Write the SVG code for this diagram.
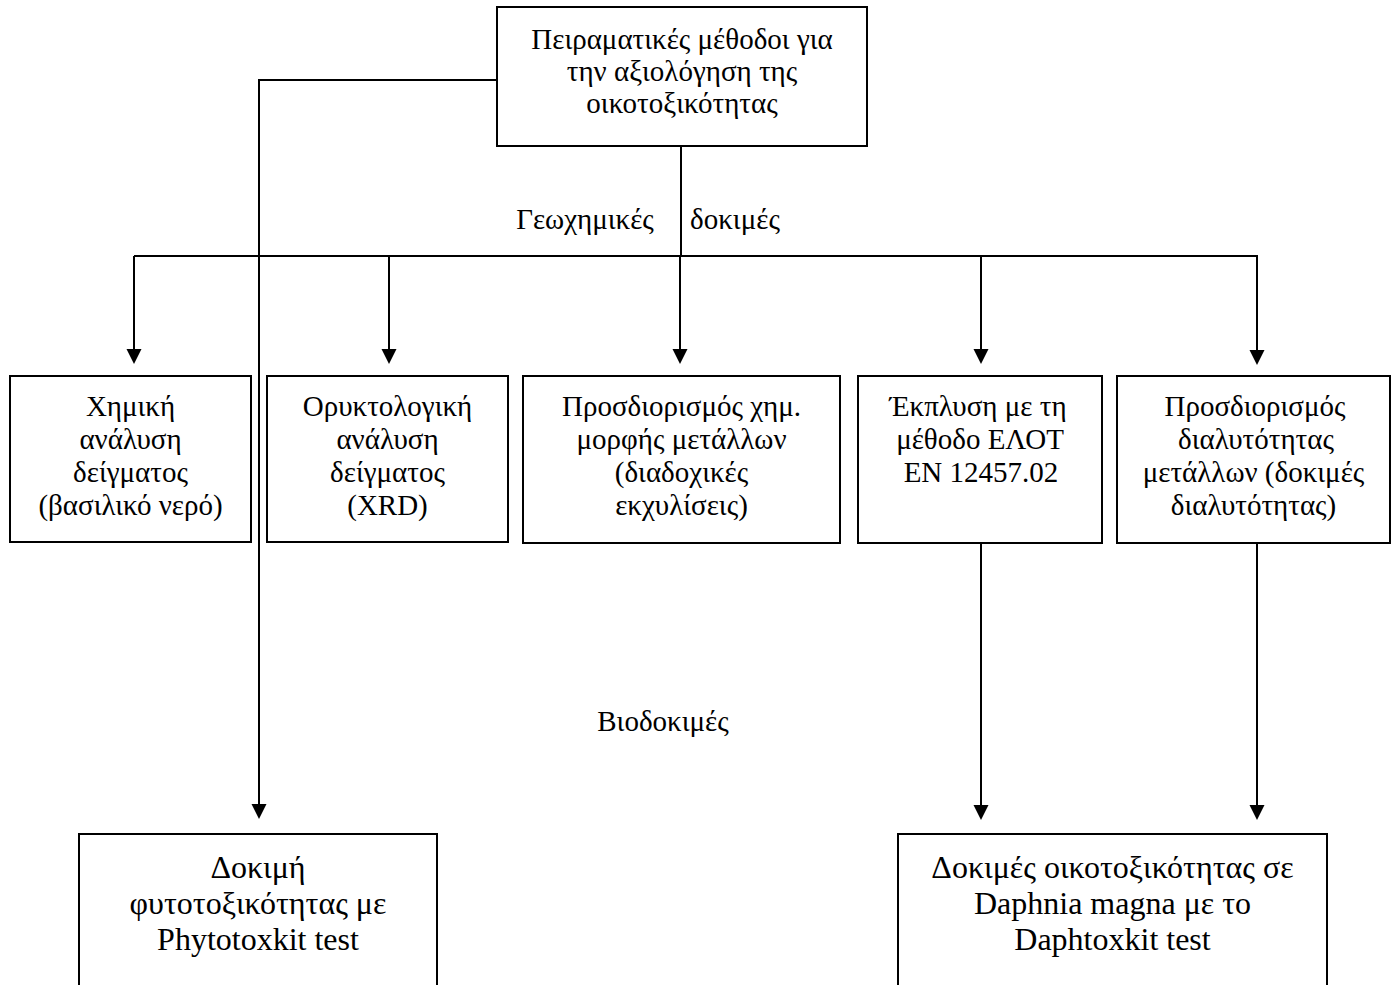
<svg xmlns="http://www.w3.org/2000/svg" width="1391" height="985" viewBox="0 0 1391 985">
<defs>
<style>
.box{fill:#fff;stroke:#000;stroke-width:2}
.t{font-family:"Liberation Serif","Times New Roman",serif;font-size:29px;fill:#000;text-anchor:middle}
.tb{font-family:"Liberation Serif","Times New Roman",serif;font-size:32px;fill:#000;text-anchor:middle}
.c{fill:none;stroke:#000;stroke-width:2}
</style>
<marker id="ah" markerUnits="userSpaceOnUse" markerWidth="16" markerHeight="16" refX="5" refY="7.5" orient="auto">
<path d="M0,0 L15,7.5 L0,15 z" fill="#000"/>
</marker>
</defs>
<rect width="1391" height="985" fill="#fff"/>
<g id="connectors">
<path class="c" d="M681,146 V256"/>
<path class="c" d="M134,256 H1258"/>
<path class="c" d="M134,256 V354" marker-end="url(#ah)"/>
<path class="c" d="M389,256 V354" marker-end="url(#ah)"/>
<path class="c" d="M680,256 V354" marker-end="url(#ah)"/>
<path class="c" d="M981,256 V354" marker-end="url(#ah)"/>
<path class="c" d="M1257,256 V355" marker-end="url(#ah)"/>
<path class="c" d="M497,80 H259 V809" marker-end="url(#ah)"/>
<path class="c" d="M981,543 V810" marker-end="url(#ah)"/>
<path class="c" d="M1257,543 V810" marker-end="url(#ah)"/>
</g>
<g id="label-geo">
<text class="t" x="585" y="229">Γεωχημικές</text>
<text class="t" x="735" y="229">δοκιμές</text>
</g>
<g id="label-bio">
<text class="t" x="663" y="731">Βιοδοκιμές</text>
</g>
<g id="root">
<rect class="box" x="497" y="7" width="370" height="139"/>
<text class="t" x="682" y="49">Πειραματικές μέθοδοι για</text>
<text class="t" x="682" y="81">την αξιολόγηση της</text>
<text class="t" x="682" y="113">οικοτοξικότητας</text>
</g>
<g id="chem">
<rect class="box" x="10" y="376" width="241" height="166"/>
<text class="t" x="130.5" y="416">Χημική</text>
<text class="t" x="130.5" y="449">ανάλυση</text>
<text class="t" x="130.5" y="482">δείγματος</text>
<text class="t" x="130.5" y="515">(βασιλικό νερό)</text>
</g>
<g id="mineral">
<rect class="box" x="267" y="376" width="241" height="166"/>
<text class="t" x="387.5" y="416">Ορυκτολογική</text>
<text class="t" x="387.5" y="449">ανάλυση</text>
<text class="t" x="387.5" y="482">δείγματος</text>
<text class="t" x="387.5" y="515">(XRD)</text>
</g>
<g id="speciation">
<rect class="box" x="523" y="376" width="317" height="167"/>
<text class="t" x="681.5" y="416">Προσδιορισμός χημ.</text>
<text class="t" x="681.5" y="449">μορφής μετάλλων</text>
<text class="t" x="681.5" y="482">(διαδοχικές</text>
<text class="t" x="681.5" y="515">εκχυλίσεις)</text>
</g>
<g id="leaching">
<rect class="box" x="858" y="376" width="244" height="167"/>
<text class="t" x="978" y="416">Έκπλυση με τη</text>
<text class="t" x="980" y="449">μέθοδο ΕΛΟΤ</text>
<text class="t" x="981" y="482">EN 12457.02</text>
</g>
<g id="solubility">
<rect class="box" x="1117" y="376" width="273" height="167"/>
<text class="t" x="1255" y="416">Προσδιορισμός</text>
<text class="t" x="1256" y="449">διαλυτότητας</text>
<text class="t" x="1253.5" y="482">μετάλλων (δοκιμές</text>
<text class="t" x="1253.5" y="515">διαλυτότητας)</text>
</g>
<g id="phyto">
<rect class="box" x="79" y="834" width="358" height="160"/>
<text class="tb" x="258" y="878">Δοκιμή</text>
<text class="tb" x="258" y="914">φυτοτοξικότητας με</text>
<text class="tb" x="258" y="950">Phytotoxkit test</text>
</g>
<g id="daphnia">
<rect class="box" x="898" y="834" width="429" height="160"/>
<text class="tb" x="1112.5" y="878">Δοκιμές οικοτοξικότητας σε</text>
<text class="tb" x="1112.5" y="914">Daphnia magna με το</text>
<text class="tb" x="1112.5" y="950">Daphtoxkit test</text>
</g>
</svg>
